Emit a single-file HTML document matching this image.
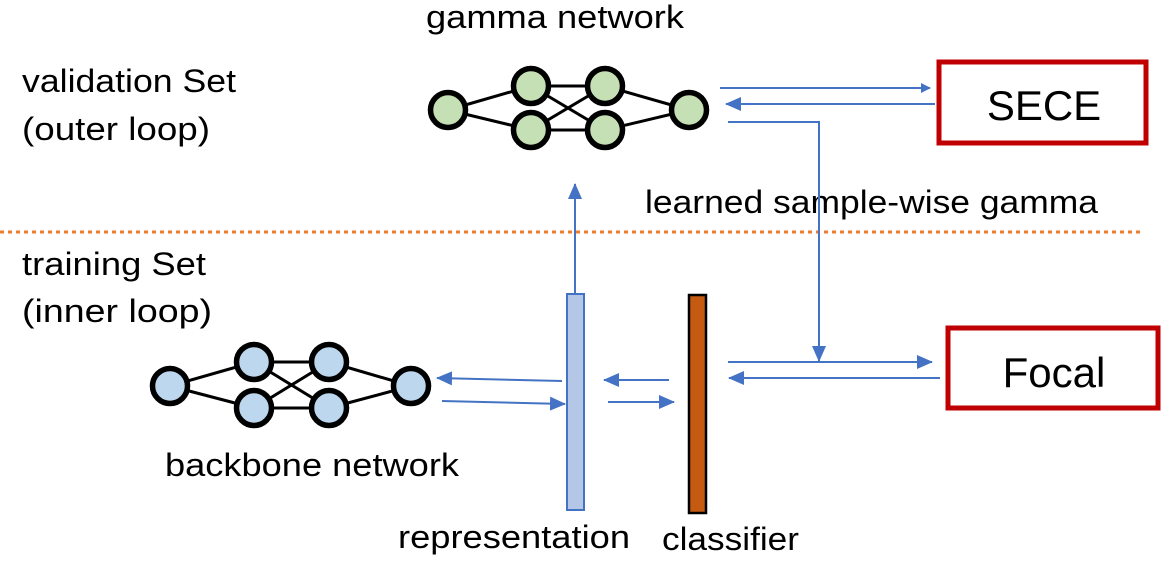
<!DOCTYPE html>
<html><head><meta charset="utf-8"><style>
html,body{margin:0;padding:0;background:#fff;width:1169px;height:567px;overflow:hidden}
text{font-family:"Liberation Sans",sans-serif;fill:#000}
</style></head><body>
<svg width="1169" height="567" viewBox="0 0 1169 567" xmlns="http://www.w3.org/2000/svg">
<defs>
<marker id="a" markerWidth="10" markerHeight="10" refX="9" refY="5" orient="auto" markerUnits="userSpaceOnUse" viewBox="0 0 10 10">
<path d="M0,0 L10,5 L0,10 z" fill="#4472c4"/></marker>
<marker id="b" markerWidth="16" markerHeight="14" refX="15" refY="7" orient="auto" markerUnits="userSpaceOnUse" viewBox="0 0 16 14">
<path d="M0,0 L16,7 L0,14 z" fill="#4472c4"/></marker>
</defs>
<text x="426" y="28" font-size="32" textLength="258" lengthAdjust="spacingAndGlyphs">gamma network</text>
<text x="22" y="92" font-size="32" textLength="214" lengthAdjust="spacingAndGlyphs">validation Set</text>
<text x="22" y="140" font-size="32" textLength="188" lengthAdjust="spacingAndGlyphs">(outer loop)</text>
<text x="645" y="213" font-size="32" textLength="453" lengthAdjust="spacingAndGlyphs">learned sample-wise gamma</text>
<text x="22" y="275" font-size="32" textLength="184" lengthAdjust="spacingAndGlyphs">training Set</text>
<text x="22" y="322" font-size="32" textLength="190" lengthAdjust="spacingAndGlyphs">(inner loop)</text>
<text x="165" y="476" font-size="32" textLength="294" lengthAdjust="spacingAndGlyphs">backbone network</text>
<text x="398" y="548" font-size="32" textLength="232" lengthAdjust="spacingAndGlyphs">representation</text>
<text x="662" y="550" font-size="32" textLength="137" lengthAdjust="spacingAndGlyphs">classifier</text>
<line x1="0" y1="232" x2="1140" y2="232" stroke="#ed7d31" stroke-width="3" stroke-dasharray="4,4"/>
<g stroke="#000" stroke-width="3">
<line x1="448" y1="110" x2="531" y2="86"/><line x1="448" y1="110" x2="531" y2="130"/>
<line x1="531" y1="86" x2="605" y2="86"/><line x1="531" y1="130" x2="605" y2="130"/>
<line x1="531" y1="86" x2="605" y2="130"/><line x1="531" y1="130" x2="605" y2="86"/>
<line x1="605" y1="86" x2="689" y2="110"/><line x1="605" y1="130" x2="689" y2="110"/>
</g>
<g fill="#c5e0b4" stroke="#000" stroke-width="5.5">
<circle cx="448" cy="110" r="17.5"/><circle cx="531" cy="86" r="17.5"/><circle cx="531" cy="130" r="17.5"/>
<circle cx="605" cy="86" r="17.5"/><circle cx="605" cy="130" r="17.5"/><circle cx="689" cy="110" r="17.5"/>
</g>
<g stroke="#000" stroke-width="3">
<line x1="170" y1="386" x2="254" y2="362"/><line x1="170" y1="386" x2="254" y2="408"/>
<line x1="254" y1="362" x2="329" y2="362"/><line x1="254" y1="408" x2="329" y2="408"/>
<line x1="254" y1="362" x2="329" y2="408"/><line x1="254" y1="408" x2="329" y2="362"/>
<line x1="329" y1="362" x2="411" y2="386"/><line x1="329" y1="408" x2="411" y2="386"/>
</g>
<g fill="#bdd7ee" stroke="#000" stroke-width="5.5">
<circle cx="170" cy="386" r="17.5"/><circle cx="254" cy="362" r="17.5"/><circle cx="254" cy="408" r="17.5"/>
<circle cx="329" cy="362" r="17.5"/><circle cx="329" cy="408" r="17.5"/><circle cx="411" cy="386" r="17.5"/>
</g>
<rect x="567" y="294" width="17" height="216" fill="#b4c7e7" stroke="#4472c4" stroke-width="2"/>
<rect x="689" y="295" width="17" height="218" fill="#c55a11" stroke="#000" stroke-width="2.5"/>
<rect x="939" y="62" width="207" height="81" fill="#fff" stroke="#c00000" stroke-width="5"/>
<text x="1044" y="120" font-size="42" text-anchor="middle">SECE</text>
<rect x="948" y="328" width="210" height="80" fill="#fff" stroke="#c00000" stroke-width="5"/>
<text x="1054" y="387" font-size="42" text-anchor="middle">Focal</text>
<g stroke="#4472c4" stroke-width="2" fill="none">
<line x1="720" y1="88" x2="930" y2="88" marker-end="url(#a)"/>
<line x1="935" y1="104" x2="726" y2="104" marker-end="url(#b)"/>
<polyline points="728,122 819,122 819,361" marker-end="url(#b)"/>
<line x1="728" y1="362" x2="932" y2="362" marker-end="url(#b)"/>
<line x1="940" y1="378" x2="729" y2="378" marker-end="url(#b)"/>
<line x1="575" y1="293" x2="575" y2="184" marker-end="url(#b)"/>
<line x1="562" y1="381" x2="437" y2="378" marker-end="url(#b)"/>
<line x1="442" y1="401" x2="565" y2="404" marker-end="url(#b)"/>
<line x1="669" y1="380" x2="604" y2="380" marker-end="url(#b)"/>
<line x1="608" y1="402" x2="674" y2="402" marker-end="url(#b)"/>
</g>
</svg>
</body></html>
